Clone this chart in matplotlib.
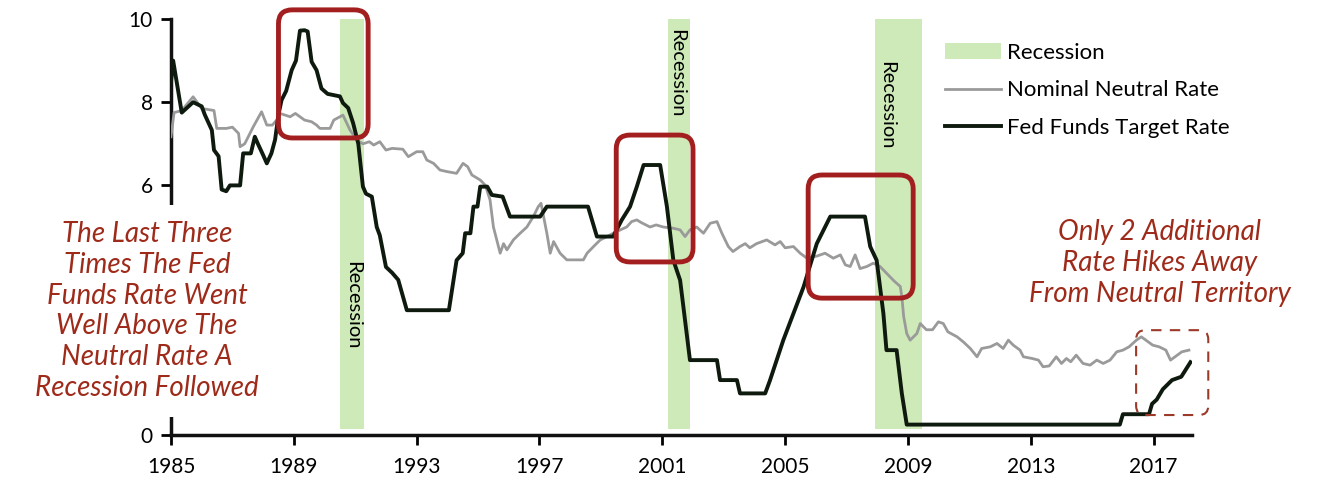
import matplotlib
matplotlib.use("Agg")
import matplotlib.pyplot as plt
from matplotlib.patches import FancyBboxPatch, Patch
from matplotlib.lines import Line2D

# --- data ---
fed_years = [1985.0, 1985.07, 1985.35, 1985.72, 1986.0, 1986.1, 1986.33, 1986.4, 1986.55, 1986.65,
             1986.8, 1986.92, 1987.25, 1987.35, 1987.6, 1987.73, 1987.83, 1988.0, 1988.12, 1988.27,
             1988.39, 1988.5, 1988.6, 1988.75, 1988.93, 1989.07, 1989.2, 1989.35, 1989.45, 1989.58,
             1989.74, 1989.9, 1990.1, 1990.5, 1990.6, 1990.77, 1990.93, 1991.1, 1991.25, 1991.35,
             1991.54, 1991.7, 1991.8, 1992.0, 1992.2, 1992.4, 1992.68, 1994.05, 1994.3, 1994.5,
             1994.58, 1994.75, 1994.85, 1994.98, 1995.07, 1995.3, 1995.45, 1995.8, 1996.04, 1997.02,
             1997.24, 1998.58, 1998.87, 1999.4, 1999.68, 1999.95, 2000.17, 2000.39, 2000.93, 2001.15,
             2001.36, 2001.58, 2001.9, 2002.78, 2002.88, 2003.43, 2003.53, 2004.35, 2004.5, 2004.94,
             2005.6, 2006.03, 2006.47, 2007.6, 2007.77, 2007.98, 2008.2, 2008.3, 2008.63, 2008.8,
             2008.96, 2015.9, 2016.0, 2016.85, 2016.95, 2017.1, 2017.3, 2017.6, 2017.9, 2018.2]
fed_rate = [8.5, 9.0, 7.75, 8.0, 7.9, 7.7, 7.33, 6.85, 6.7, 5.9,
            5.86, 6.0, 6.0, 6.77, 6.77, 7.17, 7.0, 6.73, 6.53, 6.77,
            7.1, 7.7, 8.05, 8.27, 8.77, 9.0, 9.72, 9.73, 9.7, 8.97,
            8.77, 8.33, 8.2, 8.14, 7.98, 7.86, 7.5, 7.0, 5.97, 5.8,
            5.73, 5.0, 4.8, 4.04, 3.9, 3.73, 3.0, 3.0, 4.2, 4.37,
            4.85, 4.85, 5.49, 5.49, 5.97, 5.97, 5.77, 5.73, 5.25, 5.25,
            5.49, 5.49, 4.77, 4.77, 5.17, 5.49, 5.97, 6.49, 6.49, 5.49,
            4.2, 3.72, 1.8, 1.8, 1.32, 1.32, 1.0, 1.0, 1.3, 2.28,
            3.56, 4.6, 5.25, 5.25, 4.53, 4.2, 2.92, 2.04, 2.04, 1.0,
            0.25, 0.25, 0.5, 0.5, 0.75, 0.85, 1.1, 1.32, 1.4, 1.75]

neutral_years = [1985.0, 1985.1, 1985.35, 1985.72, 1986.0, 1986.4, 1986.49, 1986.8, 1987.0, 1987.2,
                 1987.25, 1987.4, 1987.68, 1987.95, 1988.12, 1988.3, 1988.44, 1988.55, 1988.88, 1989.05,
                 1989.2, 1989.35, 1989.58, 1989.74, 1989.85, 1990.18, 1990.3, 1990.6, 1990.83, 1991.05,
                 1991.25, 1991.46, 1991.6, 1991.8, 1992.0, 1992.2, 1992.55, 1992.73, 1993.0, 1993.2,
                 1993.33, 1993.55, 1993.76, 1994.0, 1994.3, 1994.51, 1994.66, 1994.8, 1995.07, 1995.24,
                 1995.39, 1995.5, 1995.72, 1995.83, 1995.94, 1996.15, 1996.37, 1996.59, 1996.8, 1996.96,
                 1997.05, 1997.24, 1997.35, 1997.46, 1997.67, 1997.89, 1998.43, 1998.55, 1998.76, 1998.98,
                 1999.2, 1999.4, 1999.63, 1999.84, 2000.0, 2000.17, 2000.33, 2000.6, 2000.8, 2001.03,
                 2001.36, 2001.58, 2001.74, 2001.9, 2002.12, 2002.34, 2002.56, 2002.78, 2002.94, 2003.15,
                 2003.3, 2003.53, 2003.7, 2003.85, 2004.07, 2004.4, 2004.67, 2004.84, 2005.0, 2005.27,
                 2005.49, 2005.71, 2006.03, 2006.3, 2006.57, 2006.8, 2006.96, 2007.12, 2007.28, 2007.44,
                 2007.66, 2007.87, 2008.09, 2008.3, 2008.55, 2008.75, 2008.8, 2008.86, 2008.96, 2009.07,
                 2009.29, 2009.4, 2009.6, 2009.8, 2009.99, 2010.15, 2010.3, 2010.6, 2010.8, 2011.03,
                 2011.25, 2011.4, 2011.68, 2011.9, 2012.1, 2012.27, 2012.43, 2012.65, 2012.76, 2013.04,
                 2013.25, 2013.4, 2013.6, 2013.83, 2014.0, 2014.16, 2014.3, 2014.48, 2014.7, 2014.93,
                 2015.15, 2015.36, 2015.58, 2015.8, 2016.0, 2016.2, 2016.44, 2016.6, 2016.75, 2016.97,
                 2017.18, 2017.4, 2017.55, 2017.7, 2017.92, 2018.15]
neutral_rate = [7.17, 7.75, 7.8, 8.13, 7.85, 7.8, 7.37, 7.37, 7.4, 7.25,
                6.93, 7.0, 7.41, 7.77, 7.45, 7.45, 7.57, 7.73, 7.65, 7.73,
                7.65, 7.57, 7.53, 7.45, 7.37, 7.37, 7.57, 7.69, 7.33, 7.09,
                7.0, 7.05, 6.97, 7.05, 6.85, 6.89, 6.87, 6.69, 6.81, 6.81,
                6.61, 6.53, 6.37, 6.33, 6.29, 6.53, 6.45, 6.25, 6.13, 6.0,
                5.65, 5.0, 4.37, 4.6, 4.45, 4.69, 4.85, 5.0, 5.25, 5.49,
                5.57, 4.85, 4.37, 4.65, 4.37, 4.21, 4.21, 4.37, 4.53, 4.69,
                4.77, 4.85, 4.93, 5.0, 5.13, 5.17, 5.1, 5.0, 5.05, 5.0,
                4.97, 4.93, 4.77, 4.93, 5.0, 4.85, 5.09, 5.13, 4.85, 4.53,
                4.41, 4.53, 4.6, 4.5, 4.6, 4.69, 4.57, 4.65, 4.5, 4.53,
                4.37, 4.25, 4.3, 4.37, 4.25, 4.33, 4.09, 4.05, 4.33, 4.0,
                4.05, 4.13, 4.05, 3.89, 3.7, 3.57, 3.33, 2.85, 2.44, 2.28,
                2.44, 2.68, 2.53, 2.53, 2.72, 2.68, 2.48, 2.36, 2.24, 2.08,
                1.88, 2.08, 2.12, 2.2, 2.08, 2.28, 2.16, 2.04, 1.88, 1.84,
                1.8, 1.64, 1.66, 1.88, 1.72, 1.84, 1.76, 1.92, 1.72, 1.68,
                1.8, 1.72, 1.8, 2.0, 2.04, 2.12, 2.28, 2.36, 2.28, 2.16,
                2.12, 2.04, 1.8, 1.88, 2.0, 2.04]

recession_start = [1990.5, 2001.17, 2007.93]
recession_end = [1991.27, 2001.9, 2009.47]
xtick_years = [1985, 1989, 1993, 1997, 2001, 2005, 2009, 2013, 2017]
ytick_values = [0, 6, 8, 10]  # 2 and 4 are hidden under the note in the original
legend_labels = ["Recession", "Nominal Neutral Rate", "Fed Funds Target Rate"]
left_note = ("The Last Three\nTimes The Fed\nFunds Rate Went\nWell Above The\n"
             "Neutral Rate A\nRecession Followed")
right_note = "Only 2 Additional\nRate Hikes Away\nFrom Neutral Territory"

band_color = "#cdeab8"
box_red = "#a31f1f"
note_red = "#9e2a1a"
fed_color = "#0f1a0f"
neutral_color = "#9a9a9a"

plt.rcParams["font.family"] = ["Lato", "DejaVu Sans"]

W, H = 1340, 480
fig = plt.figure(figsize=(W / 100, H / 100), dpi=100)
ax = fig.add_axes([171 / W, 1 - 435 / H, (1192 - 171) / W, (435 - 19) / H])
x0, x1 = 1985, 2018.25
ax.set_xlim(x0, x1)
ax.set_ylim(0, 10)

for s, e in zip(recession_start, recession_end):
    ax.axvspan(s, e, ymin=0.015, ymax=1.0, color=band_color, lw=0, zorder=1)

ax.plot(neutral_years, neutral_rate, color=neutral_color, lw=2, zorder=3)
ax.plot(fed_years, fed_rate, color=fed_color, lw=2.8, zorder=4)

for sp in ["top", "right"]:
    ax.spines[sp].set_visible(False)
for sp in ["left", "bottom"]:
    ax.spines[sp].set_linewidth(2.5)
    ax.spines[sp].set_color("#111111")

ax.set_xticks(xtick_years)
ax.set_yticks(ytick_values)
ax.tick_params(axis="x", length=7, width=2, labelsize=15, pad=9)
ax.tick_params(axis="y", length=7, width=2, labelsize=15, pad=6)

# rounded red boxes, same corner radius in pixels for x and y
px_x = (1192 - 171) / (x1 - x0)
px_y = (435 - 19) / 10.0
aspect = px_x / px_y
boxes = [(1988.5, 7.14, 1991.42, 10.22), (1999.5, 4.16, 2002.0, 7.21), (2005.75, 3.29, 2009.17, 6.25)]
for bx0, by0, bx1, by1 in boxes:
    p = FancyBboxPatch((bx0, by0), bx1 - bx0, by1 - by0,
                       boxstyle="round,pad=0,rounding_size=0.45", mutation_aspect=aspect,
                       fc="none", ec=box_red, lw=3.5, zorder=6, clip_on=False)
    ax.add_patch(p)
p = FancyBboxPatch((2016.43, 0.48), 2.35, 2.04,
                   boxstyle="round,pad=0,rounding_size=0.3", mutation_aspect=aspect,
                   fc="none", ec="#9c3a2a", lw=1.5, ls=(0, (5, 4)), zorder=6, clip_on=False)
ax.add_patch(p)

# recession labels
ax.text(1990.9, 3.12, "Recession", rotation=-90, ha="center", va="center", fontsize=14.5, zorder=5)
ax.text(2001.45, 8.7, "Recession", rotation=-90, ha="center", va="center", fontsize=14.5, zorder=5)
ax.text(2008.29, 7.93, "Recession", rotation=-90, ha="center", va="center", fontsize=14.5, zorder=5)

# notes (white box hides part of the y axis, as in the original)
fig.text(147 / W, 1 - 311 / H, left_note, ha="center", va="center", fontsize=20,
         color=note_red, style="italic", linespacing=1.22, zorder=10,
         bbox=dict(fc="white", ec="none", pad=12))
fig.text(1160 / W, 1 - 263 / H, right_note, ha="center", va="center", fontsize=20,
         color=note_red, style="italic", linespacing=1.22, zorder=10)

handles = [Patch(fc=band_color, ec="none"),
           Line2D([], [], color=neutral_color, lw=2),
           Line2D([], [], color=fed_color, lw=2.8)]
fig.legend(handles, legend_labels, loc="upper left", bbox_to_anchor=(945 / W, 1 - 43 / H),
           frameon=False, fontsize=16, handlelength=2.5, handletextpad=0.3,
           labelspacing=0.78, borderpad=0, borderaxespad=0)

fig.savefig("out.png", dpi=100)
